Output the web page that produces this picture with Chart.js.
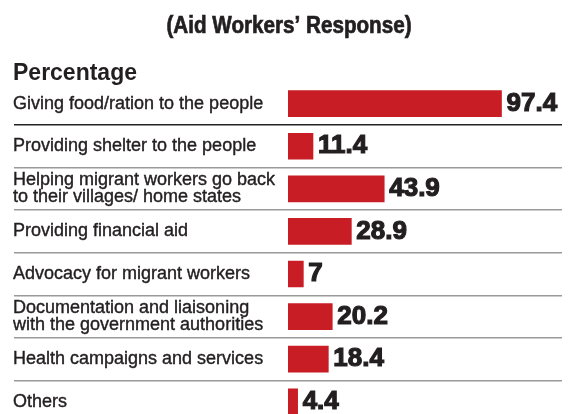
<!DOCTYPE html>
<html>
<head>
<meta charset="utf-8">
<script src="https://cdn.jsdelivr.net/npm/chart.js@4/dist/chart.umd.min.js"></script>
<style>
  html, body { margin: 0; padding: 0; background: #fff; }
  #wrap { width: 570px; height: 414px; position: relative; }
</style>
</head>
<body>
<div id="wrap"><canvas id="responseChart"></canvas></div>
<script>
// Aid workers' activities, share of responses (%)
const heading = '(Aid Workers\u2019 Response)';
const categories = [
    'Giving food/ration to the people',
    'Providing shelter to the people',
    ['Helping migrant workers go back', 'to their villages/ home states'],
    'Providing financial aid',
    'Advocacy for migrant workers',
    ['Documentation and liaisoning', 'with the government authorities'],
    'Health campaigns and services',
    'Others'
];
const shares = [97.4, 11.4, 43.9, 28.9, 7, 20.2, 18.4, 4.4];

const INK = '#231f20';
const RED = '#c91d25';

// condensed bold heading, squeezed horizontally since no narrow face is around
const headingText = {
    id: 'headingText',
    afterDraw(chart) {
        const ctx = chart.ctx;
        ctx.save();
        ctx.font = 'bold 24px "Liberation Sans", Arial, sans-serif';
        ctx.fillStyle = INK;
        ctx.strokeStyle = INK;
        ctx.lineWidth = 0.7;
        ctx.textAlign = 'center';
        ctx.textBaseline = 'alphabetic';
        ctx.translate(289, 33);
        ctx.scale(0.86, 1);
        ctx.fillText(heading, 0, 0);
        ctx.strokeText(heading, 0, 0);
        ctx.restore();
    }
};

// big black numbers just right of each bar
const valueLabels = {
    id: 'valueLabels',
    afterDatasetsDraw(chart) {
        const ctx = chart.ctx;
        const meta = chart.getDatasetMeta(0);
        ctx.save();
        ctx.font = 'bold 26px "Liberation Sans", Arial, sans-serif';
        ctx.fillStyle = INK;
        ctx.strokeStyle = INK;
        ctx.lineWidth = 1.2;
        ctx.textAlign = 'left';
        ctx.textBaseline = 'middle';
        meta.data.forEach((bar, i) => {
            const txt = String(shares[i]);
            ctx.fillText(txt, bar.x + 5, bar.y);
            ctx.strokeText(txt, bar.x + 5, bar.y);
        });
        ctx.restore();
    }
};

// let the plot run past the bottom edge so the last row is cut off
const bottomBleed = {
    id: 'bottomBleed',
    afterLayout(chart, args, opts) {
        const extra = opts.px || 0;
        chart.chartArea.bottom += extra;
        chart.chartArea.height += extra;
        const y = chart.scales.y;
        y.bottom += extra;
        y.height += extra;
        y.configure();
    }
};

document.addEventListener('DOMContentLoaded', () => {
    const ctx = document.getElementById('responseChart').getContext('2d');

    new Chart(ctx, {
        type: 'bar',
        data: {
            labels: categories,
            datasets: [{
                data: shares,
                backgroundColor: RED,
                borderWidth: 0,
                barThickness: 26
            }]
        },
        options: {
            indexAxis: 'y',
            responsive: true,
            maintainAspectRatio: false,
            animation: false,
            layout: {
                padding: { left: 13, right: 8, top: 0, bottom: 0 }
            },
            plugins: {
                legend: { display: false },
                tooltip: { enabled: false },
                bottomBleed: { px: 9 },
                subtitle: {
                    display: true,
                    text: 'Percentage',
                    align: 'start',
                    color: INK,
                    font: { family: '"Liberation Sans", Arial, sans-serif', size: 23, weight: 'bold', lineHeight: 0.8 },
                    padding: { top: 64, bottom: 0 }
                }
            },
            scales: {
                x: {
                    display: false,
                    position: 'top',
                    min: 0,
                    max: 125
                },
                y: {
                    border: { display: false },
                    grid: {
                        offset: true,
                        lineWidth: 1.5,
                        tickLength: 274,
                        color: (c) => {
                            if (c.type !== 'tick' || c.index === 0) return 'rgba(0,0,0,0)';
                            return c.index === 1 ? '#222222' : '#9a9a9a';
                        }
                    },
                    ticks: {
                        autoSkip: false,
                        crossAlign: 'far',
                        color: INK,
                        textStrokeColor: INK,
                        textStrokeWidth: 0.4,
                        font: { family: '"Liberation Sans", Arial, sans-serif', size: 18, lineHeight: 0.95 }
                    },
                    afterFit: (scale) => {
                        scale.width = 275;
                        scale.paddingTop = 0;
                        scale.paddingBottom = 0;
                    }
                }
            }
        },
        plugins: [valueLabels, headingText, bottomBleed]
    });
});
</script>
</body>
</html>
